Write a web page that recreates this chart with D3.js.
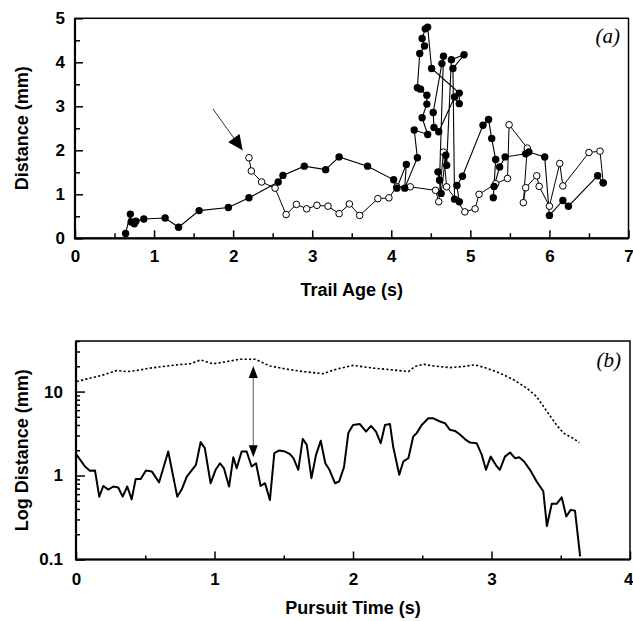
<!DOCTYPE html>
<html>
<head>
<meta charset="utf-8">
<script src="https://cdn.jsdelivr.net/npm/d3@7"></script>
<style>
  body { margin: 0; background: #fff; }
</style>
</head>
<body>
<svg id="chart" width="633" height="621"></svg>
<script>
// Panel (a): trail age vs distance, filled and open trails
const filledAge = [0.64,0.70,0.71,0.75,0.77,0.87,1.14,1.31,1.57,1.94,2.20,2.57,2.63,2.90,3.17,3.34,3.70,4.03,4.07,4.19,
    4.17,4.33,4.29,4.46,4.39,4.45,4.45,4.37,4.33,4.36,4.42,4.39,4.43,4.46,4.51,4.86,4.86,4.80,4.60,4.54,
    4.53,4.64,4.66,4.61,4.59,4.63,4.69,4.70,4.76,4.92,4.78,4.80,4.86,4.83,4.90,5.16,5.23,5.27,5.32,5.29,
    5.30,5.37,5.44,5.70,5.74,5.94,6.00,6.17,6.24,6.61,6.68];
const filledDist = [0.11,0.55,0.37,0.33,0.39,0.44,0.46,0.25,0.63,0.70,0.92,1.28,1.43,1.64,1.56,1.85,1.64,1.33,1.14,1.68,
    1.14,1.83,2.46,2.36,2.74,3.05,3.25,3.39,3.42,4.20,4.37,4.54,4.76,4.80,3.86,3.30,3.06,3.21,2.42,2.52,
    2.86,3.97,4.14,1.32,1.51,1.02,1.89,1.66,4.06,4.17,3.86,0.89,0.83,1.20,1.41,2.57,2.70,2.27,1.79,0.92,
    1.18,1.62,1.85,1.92,1.96,1.85,0.52,0.86,0.73,1.42,1.26];
const openAge = [2.20,2.23,2.36,2.53,2.67,2.80,2.93,3.06,3.20,3.34,3.47,3.60,3.83,3.97,4.07,4.24,4.56,4.60,4.66,4.70,
    4.93,5.06,5.11,5.32,5.47,5.49,5.72,5.67,5.70,5.84,5.87,6.00,6.13,6.17,6.50,6.64,6.68];
const openDist = [1.83,1.53,1.28,1.14,0.54,0.77,0.67,0.75,0.73,0.56,0.78,0.52,0.90,0.92,1.17,1.17,1.09,0.83,1.96,1.17,
    0.60,0.67,1.00,1.24,1.36,2.58,2.05,0.81,1.15,1.42,1.18,0.73,1.70,1.19,1.95,1.98,1.26];
const ageTicks = [0,1,2,3,4,5,6,7];
const distTicks = [0,1,2,3,4,5];
// arrow pointing at the start of the open trail: [age, dist] tail and tip
const arrowA = [[1.745, 2.94], [2.12, 2.0]];

// Panel (b): pursuit time vs log distance
const solidTime = [0.005,0.065,0.10,0.137,0.168,0.197,0.233,0.27,0.305,0.337,
    0.37,0.402,0.431,0.467,0.505,0.547,0.60,0.666,0.731,0.763,
    0.80,0.866,0.90,0.93,0.972,1.008,1.04,1.068,1.105,1.136,
    1.16,1.196,1.232,1.268,1.30,1.333,1.365,1.40,1.432,1.468,
    1.51,1.545,1.57,1.605,1.637,1.666,1.70,1.733,1.767,1.80,
    1.83,1.87,1.90,1.935,1.966,2.0,2.05,2.094,2.13,2.166,
    2.20,2.231,2.267,2.29,2.334,2.363,2.40,2.435,2.46,2.496,
    2.544,2.58,2.628,2.664,2.70,2.736,2.77,2.81,2.845,2.893,
    2.93,2.96,2.994,3.03,3.06,3.097,3.134,3.17,3.20,3.235,
    3.278,3.326,3.374,3.40,3.435,3.47,3.507,3.54,3.572,3.603,3.64];
const solidDist = [1.76,1.28,1.14,1.15,0.56,0.75,0.68,0.74,0.72,0.56,
    0.74,0.52,0.91,0.91,1.15,1.12,0.83,1.93,0.56,0.68,
    0.97,1.34,2.5,2.12,0.81,1.17,1.40,1.22,0.74,1.65,
    1.22,1.93,1.93,1.28,1.40,0.75,0.81,0.51,1.85,1.99,
    1.93,1.80,1.61,1.17,2.73,2.32,0.93,1.76,2.59,1.40,
    1.17,0.81,0.85,1.26,3.2,4.0,4.1,3.34,3.9,3.34,
    2.43,4.0,4.1,2.21,1.02,1.47,1.61,2.91,3.2,4.0,
    4.8,4.8,4.4,4.2,3.5,3.4,3.1,2.7,2.47,2.43,
    1.76,1.17,1.68,1.34,1.17,1.68,1.88,1.61,1.65,1.47,
    1.17,0.85,0.65,0.25,0.46,0.46,0.55,0.325,0.39,0.38,0.109];
const dottedTime = [0.005,0.10,0.197,0.294,0.366,0.438,0.534,0.63,0.727,0.823,
    0.90,0.99,1.088,1.184,1.292,1.40,1.52,1.64,1.786,1.88,
    2.0,2.147,2.29,2.40,2.448,2.508,2.58,2.70,2.796,2.88,
    2.965,3.06,3.16,3.254,3.326,3.40,3.47,3.52,3.58,3.634];
const dottedDist = [13.2,14.4,15.8,17.8,17.3,17.8,19.0,19.9,20.8,21.4,
    23.8,21.4,22.7,24.3,24.3,20.2,18.5,17.3,16.3,18.5,
    20.5,19.0,18.1,17.3,19.9,21.2,20.2,19.3,19.9,20.8,
    19.0,16.6,13.8,11.0,8.7,5.8,4.0,3.2,2.83,2.47];
const timeTicks = [0,1,2,3,4];
const logTicks = [0.1,1,10];
const logMinor = [0.2,0.3,0.4,0.5,0.6,0.7,0.8,0.9,2,3,4,5,6,7,8,9,20,30,40];
// double arrow between the two curves: [time, dist] top and bottom
const arrowB = [[1.28, 20.2], [1.28, 1.65]];

const svg = d3.select("#chart");
const sans = "'Liberation Sans', Arial, sans-serif";
const serif = "'Liberation Serif', 'Times New Roman', serif";

// Scales
const xA = d3.scaleLinear().domain([0, 7]).range([75, 628.5]);
const yA = d3.scaleLinear().domain([0, 5]).range([238.3, 18.3]);
const xB = d3.scaleLinear().domain([0, 4]).range([76, 630]);
const yB = d3.scaleLog().domain([0.1, 40]).range([559.5, 341]);

// Filled triangle with tip at (tx,ty), pointing away from (fx,fy)
function arrowHead(fx, fy, tx, ty, len, half) {
    const a = Math.atan2(ty - fy, tx - fx);
    const bx = tx - len * Math.cos(a), by = ty - len * Math.sin(a);
    const px = -Math.sin(a) * half, py = Math.cos(a) * half;
    return [[tx, ty], [bx + px, by + py], [bx - px, by - py]].map(p => p.join(",")).join(" ");
}

function styleAxis(g, size) {
    g.select(".domain").remove();
    g.selectAll("line").attr("stroke", "#000").attr("stroke-width", 1.5);
    g.selectAll("text")
        .attr("fill", "#000")
        .attr("font-family", sans)
        .attr("font-weight", "bold")
        .attr("font-size", size);
}

function drawFrame(x, y) {
    const [x0, x1] = x.range();
    const [y0, y1] = y.range();
    svg.append("rect")
        .attr("x", x0).attr("y", y1)
        .attr("width", x1 - x0).attr("height", y0 - y1)
        .attr("fill", "none").attr("stroke", "#000").attr("stroke-width", 1.5);
    svg.append("path")
        .attr("d", `M${x0},${y1}V${y0}H${x1}`)
        .attr("fill", "none").attr("stroke", "#000").attr("stroke-width", 2.2);
}

// ---------- Panel (a) ----------
const halfA = d3.range(0.5, 7, 1);
svg.append("g")
    .attr("transform", `translate(0,${yA(0)})`)
    .call(d3.axisBottom(xA).tickValues(halfA).tickSize(-5).tickFormat(""))
    .call(g => styleAxis(g, 17));
svg.append("g")
    .attr("transform", `translate(0,${yA(0)})`)
    .call(d3.axisBottom(xA).tickValues(ageTicks).tickSize(-8).tickPadding(12).tickFormat(d3.format("d")))
    .call(g => styleAxis(g, 17));
svg.append("g")
    .attr("transform", `translate(${xA(0)},0)`)
    .call(d3.axisLeft(yA).tickValues(d3.range(0.5, 5, 1)).tickSize(-5).tickFormat(""))
    .call(g => styleAxis(g, 17));
svg.append("g")
    .attr("transform", `translate(${xA(0)},0)`)
    .call(d3.axisLeft(yA).tickValues(distTicks).tickSize(-8).tickPadding(10).tickFormat(d3.format("d")))
    .call(g => styleAxis(g, 17));

drawFrame(xA, yA);

const openData = openAge.map((a, i) => [a, openDist[i]]);
const filledData = filledAge.map((a, i) => [a, filledDist[i]]);
const lineA = d3.line().x(d => xA(d[0])).y(d => yA(d[1]));

svg.append("path").datum(openData)
    .attr("d", lineA).attr("fill", "none").attr("stroke", "#000").attr("stroke-width", 1);
svg.append("path").datum(filledData)
    .attr("d", lineA).attr("fill", "none").attr("stroke", "#000").attr("stroke-width", 1.1);

svg.append("g").selectAll("circle")
    .data(openData)
    .join("circle")
    .attr("cx", d => xA(d[0]))
    .attr("cy", d => yA(d[1]))
    .attr("r", 3.3)
    .attr("fill", "#fff")
    .attr("stroke", "#000")
    .attr("stroke-width", 1);

svg.append("g").selectAll("circle")
    .data(filledData)
    .join("circle")
    .attr("cx", d => xA(d[0]))
    .attr("cy", d => yA(d[1]))
    .attr("r", 3.7)
    .attr("fill", "#000");

// arrow to the start of the open trail
{
    const [t, h] = arrowA;
    const fx = xA(t[0]), fy = yA(t[1]), tx = xA(h[0]), ty = yA(h[1]);
    svg.append("line")
        .attr("x1", fx).attr("y1", fy).attr("x2", tx).attr("y2", ty)
        .attr("stroke", "#333").attr("stroke-width", 1);
    svg.append("polygon")
        .attr("points", arrowHead(fx, fy, tx, ty, 15, 7))
        .attr("fill", "#000");
}

svg.append("text")
    .attr("x", 620).attr("y", 43)
    .attr("text-anchor", "end")
    .attr("font-family", serif).attr("font-style", "italic").attr("font-size", 21)
    .text("(a)");

svg.append("text")
    .attr("x", (xA(0) + xA(7)) / 2).attr("y", 296)
    .attr("text-anchor", "middle")
    .attr("font-family", sans).attr("font-weight", "bold").attr("font-size", 18)
    .text("Trail Age (s)");

svg.append("text")
    .attr("transform", `translate(28,${(yA(0) + yA(5)) / 2}) rotate(-90)`)
    .attr("text-anchor", "middle")
    .attr("font-family", sans).attr("font-weight", "bold").attr("font-size", 18)
    .text("Distance (mm)");

// ---------- Panel (b) ----------
svg.append("g")
    .attr("transform", `translate(0,${yB(0.1)})`)
    .call(d3.axisBottom(xB).tickValues(d3.range(0.5, 4, 1)).tickSize(-4).tickFormat(""))
    .call(g => styleAxis(g, 17));
svg.append("g")
    .attr("transform", `translate(0,${yB(0.1)})`)
    .call(d3.axisBottom(xB).tickValues(timeTicks).tickSize(-8).tickPadding(13).tickFormat(d3.format("d")))
    .call(g => styleAxis(g, 17))
    // last label sits at the page edge; nudge it inside
    .call(g => g.selectAll(".tick text").filter(d => d === 4).attr("text-anchor", "end").attr("dx", 3));
svg.append("g")
    .attr("transform", `translate(${xB(0)},0)`)
    .call(d3.axisLeft(yB).tickValues(logMinor).tickSize(-4).tickFormat(""))
    .call(g => styleAxis(g, 17));
svg.append("g")
    .attr("transform", `translate(${xB(0)},0)`)
    .call(d3.axisLeft(yB).tickValues(logTicks).tickSize(-9).tickPadding(13).tickFormat(d => String(d)))
    .call(g => styleAxis(g, 17));

drawFrame(xB, yB);

const lineB = d3.line().x(d => xB(d[0])).y(d => yB(d[1]));

svg.append("path")
    .datum(dottedTime.map((t, i) => [t, dottedDist[i]]))
    .attr("d", lineB)
    .attr("fill", "none")
    .attr("stroke", "#000")
    .attr("stroke-width", 1.6)
    .attr("stroke-dasharray", "2.2,2.2");

svg.append("path")
    .datum(solidTime.map((t, i) => [t, solidDist[i]]))
    .attr("d", lineB)
    .attr("fill", "none")
    .attr("stroke", "#000")
    .attr("stroke-width", 2)
    .attr("stroke-linejoin", "round");

// double arrow between curves
{
    const [top, bot] = arrowB;
    const x = xB(top[0]), y1 = yB(top[1]), y2 = yB(bot[1]);
    svg.append("line")
        .attr("x1", x).attr("y1", y1 + 10).attr("x2", x).attr("y2", y2 - 10)
        .attr("stroke", "#777").attr("stroke-width", 1.2);
    svg.append("polygon").attr("points", arrowHead(x, y2, x, y1, 12, 4.5)).attr("fill", "#000");
    svg.append("polygon").attr("points", arrowHead(x, y1, x, y2, 12, 4.5)).attr("fill", "#000");
}

svg.append("text")
    .attr("x", 621).attr("y", 367)
    .attr("text-anchor", "end")
    .attr("font-family", serif).attr("font-style", "italic").attr("font-size", 21)
    .text("(b)");

svg.append("text")
    .attr("x", (xB(0) + xB(4)) / 2).attr("y", 614)
    .attr("text-anchor", "middle")
    .attr("font-family", sans).attr("font-weight", "bold").attr("font-size", 18)
    .text("Pursuit Time (s)");

svg.append("text")
    .attr("transform", `translate(28,${(yB(0.1) + yB(40)) / 2}) rotate(-90)`)
    .attr("text-anchor", "middle")
    .attr("font-family", sans).attr("font-weight", "bold").attr("font-size", 18)
    .text("Log Distance (mm)");
</script>
</body>
</html>
